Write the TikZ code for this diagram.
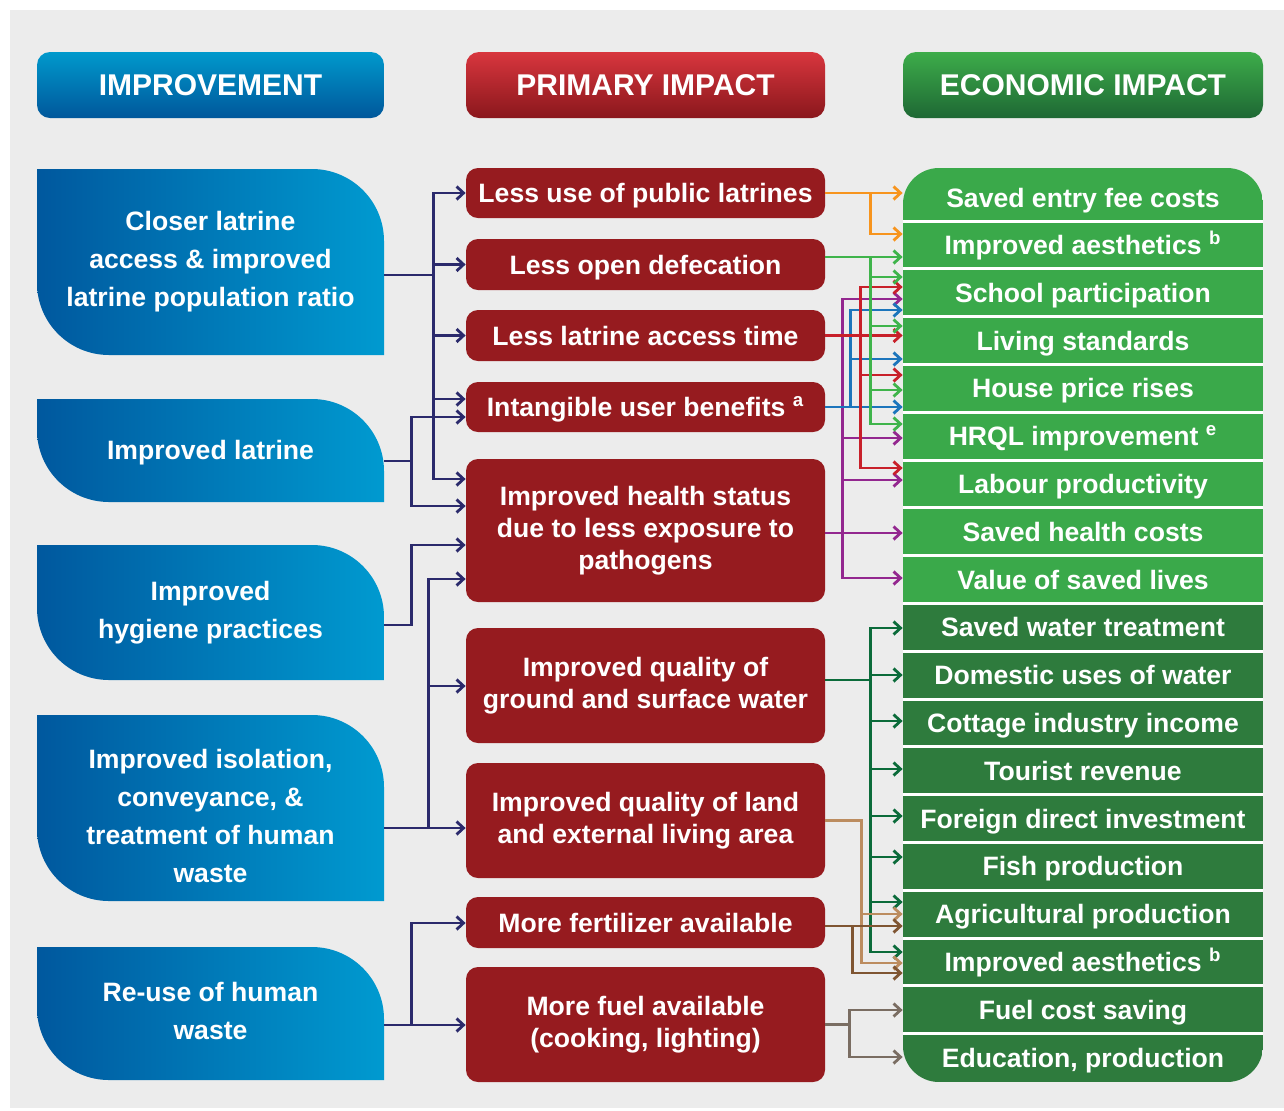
\documentclass[tikz,border=0pt]{standalone}
\usepackage{fontspec}
\setmainfont{Liberation Sans}
\usetikzlibrary{arrows.meta}

\definecolor{panel}{HTML}{ECECEC}
\definecolor{impTop}{HTML}{0099CC}
\definecolor{impBot}{HTML}{00579B}
\definecolor{priTop}{HTML}{D8363E}
\definecolor{priBot}{HTML}{8A171C}
\definecolor{ecoTop}{HTML}{3DAC4A}
\definecolor{ecoBot}{HTML}{1E6834}
\definecolor{leafL}{HTML}{00589E}
\definecolor{leafR}{HTML}{009AD0}
\definecolor{boxred}{HTML}{961B1F}
\definecolor{rowlite}{HTML}{3AA94A}
\definecolor{rowdark}{HTML}{2E7B3D}
\definecolor{cNavy}{HTML}{2B2A6C}
\definecolor{cOrange}{HTML}{F7941D}
\definecolor{cGreen}{HTML}{3FB44B}
\definecolor{cRed}{HTML}{C8202A}
\definecolor{cBlue}{HTML}{1C75BC}
\definecolor{cPurple}{HTML}{93278F}
\definecolor{cForest}{HTML}{0B6B3A}
\definecolor{cTan}{HTML}{BC8C5F}
\definecolor{cBrown}{HTML}{7F5532}
\definecolor{cTaupe}{HTML}{7A6D62}

% column centres (1 unit = 1px)
\newcommand*{\colL}{210.5}
\newcommand*{\colM}{645.5}
\newcommand*{\colR}{1083}

\tikzset{
  head/.style={rounded corners=6.5pt, minimum height=33pt, inner sep=0pt,
    text=white, font=\bfseries\fontsize{15}{18}\selectfont},
  leafbox/.style={minimum width=173.5pt, inner sep=0pt, align=center,
    text=white, font=\bfseries\fontsize{13.3}{19}\selectfont},
  midbox/.style={fill=boxred, rounded corners=6pt, minimum width=179.5pt,
    inner sep=0pt, align=center, text=white,
    font=\bfseries\fontsize{13.3}{16}\selectfont},
  oneline/.style={text height=9.6pt, text depth=0pt},
  rowtxt/.style={minimum width=180pt, minimum height=22pt, inner sep=0pt,
    text height=9.6pt, text depth=0pt, text=white,
    font=\bfseries\fontsize{13.3}{16}\selectfont},
  link/.style={line width=1.4pt, -{Straight Barb[length=3.5pt,width=6.5pt]}},
}

\begin{document}
\begin{tikzpicture}[x=0.5pt, y=-0.5pt]
  \useasboundingbox (0,0) rectangle (1284,1110);
  \fill[panel] (10,10) rectangle (1284,1108);

  % column heads
  \node[head, minimum width=173.5pt, top color=impTop, middle color=impTop, bottom color=impBot] (hImp) at (\colL,85) {IMPROVEMENT};
  \node[head, minimum width=179.5pt, top color=priTop, bottom color=priBot] (hPri) at (\colM,85) {PRIMARY IMPACT};
  \node[head, minimum width=180pt, top color=ecoTop, bottom color=ecoBot] (hEco) at (\colR,85) {ECONOMIC IMPACT};

  % improvements: leaf shaped boxes (\dy nudges the text block)
  \foreach \nm/\cy/\hh/\dy/\txt in {
      lat1/262/93/0/{Closer latrine\\access \& improved\\latrine population ratio},
      lat2/450.5/51.5/2/{Improved latrine},
      lat3/612.5/67.5/0/{Improved\\hygiene practices},
      lat4/808/93/8/{Improved isolation,\\conveyance, \&\\treatment of human\\waste},
      lat5/1013.5/66.5/-3/{Re-use of human\\waste}}
  {
    \shade[left color=leafL, right color=leafR]
      (37,\cy-\hh) -- (312,\cy-\hh) arc[start angle=-90, end angle=0, radius=72]
      -- (384,\cy+\hh) -- (109,\cy+\hh) arc[start angle=90, end angle=180, radius=72] -- cycle;
    \node[leafbox, minimum height=\hh pt] (\nm) at (\colL,\cy) {};
    \node[leafbox] (\nm txt) at (\colL,\cy+\dy) {\txt};
  }

  % primary impacts
  \node[midbox, oneline, minimum height=25pt]   (m1) at (\colM,193)    {Less use of public latrines};
  \node[midbox, oneline, minimum height=25.5pt] (m2) at (\colM,264.5)  {Less open defecation};
  \node[midbox, oneline, minimum height=25.5pt] (m3) at (\colM,335.5)  {Less latrine access time};
  \node[midbox, oneline, minimum height=25pt]   (m4) at (\colM,407)    {Intangible user benefits \textsuperscript{a}};
  \node[midbox, minimum height=71.5pt]          (m5) at (\colM,530.5)  {Improved health status\\due to less exposure to\\pathogens};
  \node[midbox, minimum height=57.5pt]          (m6) at (\colM,685.5)  {Improved quality of\\ground and surface water};
  \node[midbox, minimum height=57.5pt]          (m7) at (\colM,820.5)  {Improved quality of land\\and external living area};
  \node[midbox, oneline, minimum height=25.5pt] (m8) at (\colM,922.5)  {More fertilizer available};
  \node[midbox, minimum height=57.5pt]          (m9) at (\colM,1024.5) {More fuel available\\(cooking, lighting)};

  % economic impacts: one rounded column cut into rows
  \begin{scope}
    \clip[rounded corners=18pt] (903,168) rectangle (1263,1082);
    \fill[rowlite] (903,168) rectangle (1263,603.4);
    \fill[rowdark] (903,603.4) rectangle (1263,1082);
    \foreach \k in {0,...,17}
      \draw[white, line width=1.5pt] (903,221+47.8*\k) -- (1263,221+47.8*\k);
  \end{scope}
  \node[rowtxt] (r1) at (\colR,198) {Saved entry fee costs};
  \foreach \k/\txt in {
      2/{Improved aesthetics \textsuperscript{b}},
      3/{School participation},
      4/{Living standards},
      5/{House price rises},
      6/{HRQL improvement \textsuperscript{e}},
      7/{Labour productivity},
      8/{Saved health costs},
      9/{Value of saved lives},
      10/{Saved water treatment},
      11/{Domestic uses of water},
      12/{Cottage industry income},
      13/{Tourist revenue},
      14/{Foreign direct investment},
      15/{Fish production},
      16/{Agricultural production},
      17/{Improved aesthetics \textsuperscript{b}},
      18/{Fuel cost saving},
      19/{Education, production}}
    \node[rowtxt] (r\k) at (\colR,149.3+47.8*\k) {\txt};

  % improvement -> primary impact
  \foreach \tg/\y in {m1/193, m2/264.5, m3/335.5, m4/399, m5/479}
    \draw[link, cNavy] (lat1.east |- 0,275) -- ++(49,0) |- (\tg.west |- 0,\y);
  \foreach \tg/\y in {m4/417, m5/506}
    \draw[link, cNavy] (lat2.east |- 0,461) -- ++(27,0) |- (\tg.west |- 0,\y);
  \draw[link, cNavy] (lat3.east |- 0,625) -- ++(27,0) |- (m5.west |- 0,545);
  \foreach \tg/\y in {m5/579, m6/686, m7/828}
    \draw[link, cNavy] (lat4.east |- 0,828) -- ++(44,0) |- (\tg.west |- 0,\y);
  \foreach \tg/\y in {m8/923, m9/1025}
    \draw[link, cNavy] (lat5.east |- 0,1025) -- ++(27,0) |- (\tg.west |- 0,\y);

  % primary -> economic impact
  \foreach \tg/\y in {r3/299, r6/438, r7/480, r8/533, r9/578}
    \draw[link, cPurple] (m5.east |- 0,533) -- ++(17,0) |- (\tg.west |- 0,\y);
  \foreach \tg/\y in {r3/310, r4/359, r5/407}
    \draw[link, cBlue] (m4.east) -- ++(25,0) |- (\tg.west |- 0,\y);
  \foreach \tg/\y in {r3/287, r4/335.5, r5/375, r7/468}
    \draw[link, cRed] (m3.east) -- ++(35,0) |- (\tg.west |- 0,\y);
  \foreach \tg/\y in {r2/257, r3/277, r4/326, r5/390, r6/424}
    \draw[link, cGreen] (m2.east |- 0,257) -- ++(45,0) |- (\tg.west |- 0,\y);
  \foreach \tg/\y in {r1/193, r2/234}
    \draw[link, cOrange] (m1.east) -- ++(45,0) |- (\tg.west |- 0,\y);
  \foreach \tg/\y in {r10/628, r11/675, r12/721, r13/769, r14/816, r15/857, r16/902, r17/952}
    \draw[link, cForest] (m6.east |- 0,680) -- ++(45,0) |- (\tg.west |- 0,\y);
  \foreach \tg/\y in {r16/914, r17/963}
    \draw[link, cTan] (m7.east) -- ++(36,0) |- (\tg.west |- 0,\y);
  \foreach \tg/\y in {r16/926, r17/973}
    \draw[link, cBrown] (m8.east |- 0,926) -- ++(27,0) |- (\tg.west |- 0,\y);
  \foreach \tg/\y in {r18/1010, r19/1057}
    \draw[link, cTaupe] (m9.east) -- ++(24,0) |- (\tg.west |- 0,\y);
\end{tikzpicture}
\end{document}
